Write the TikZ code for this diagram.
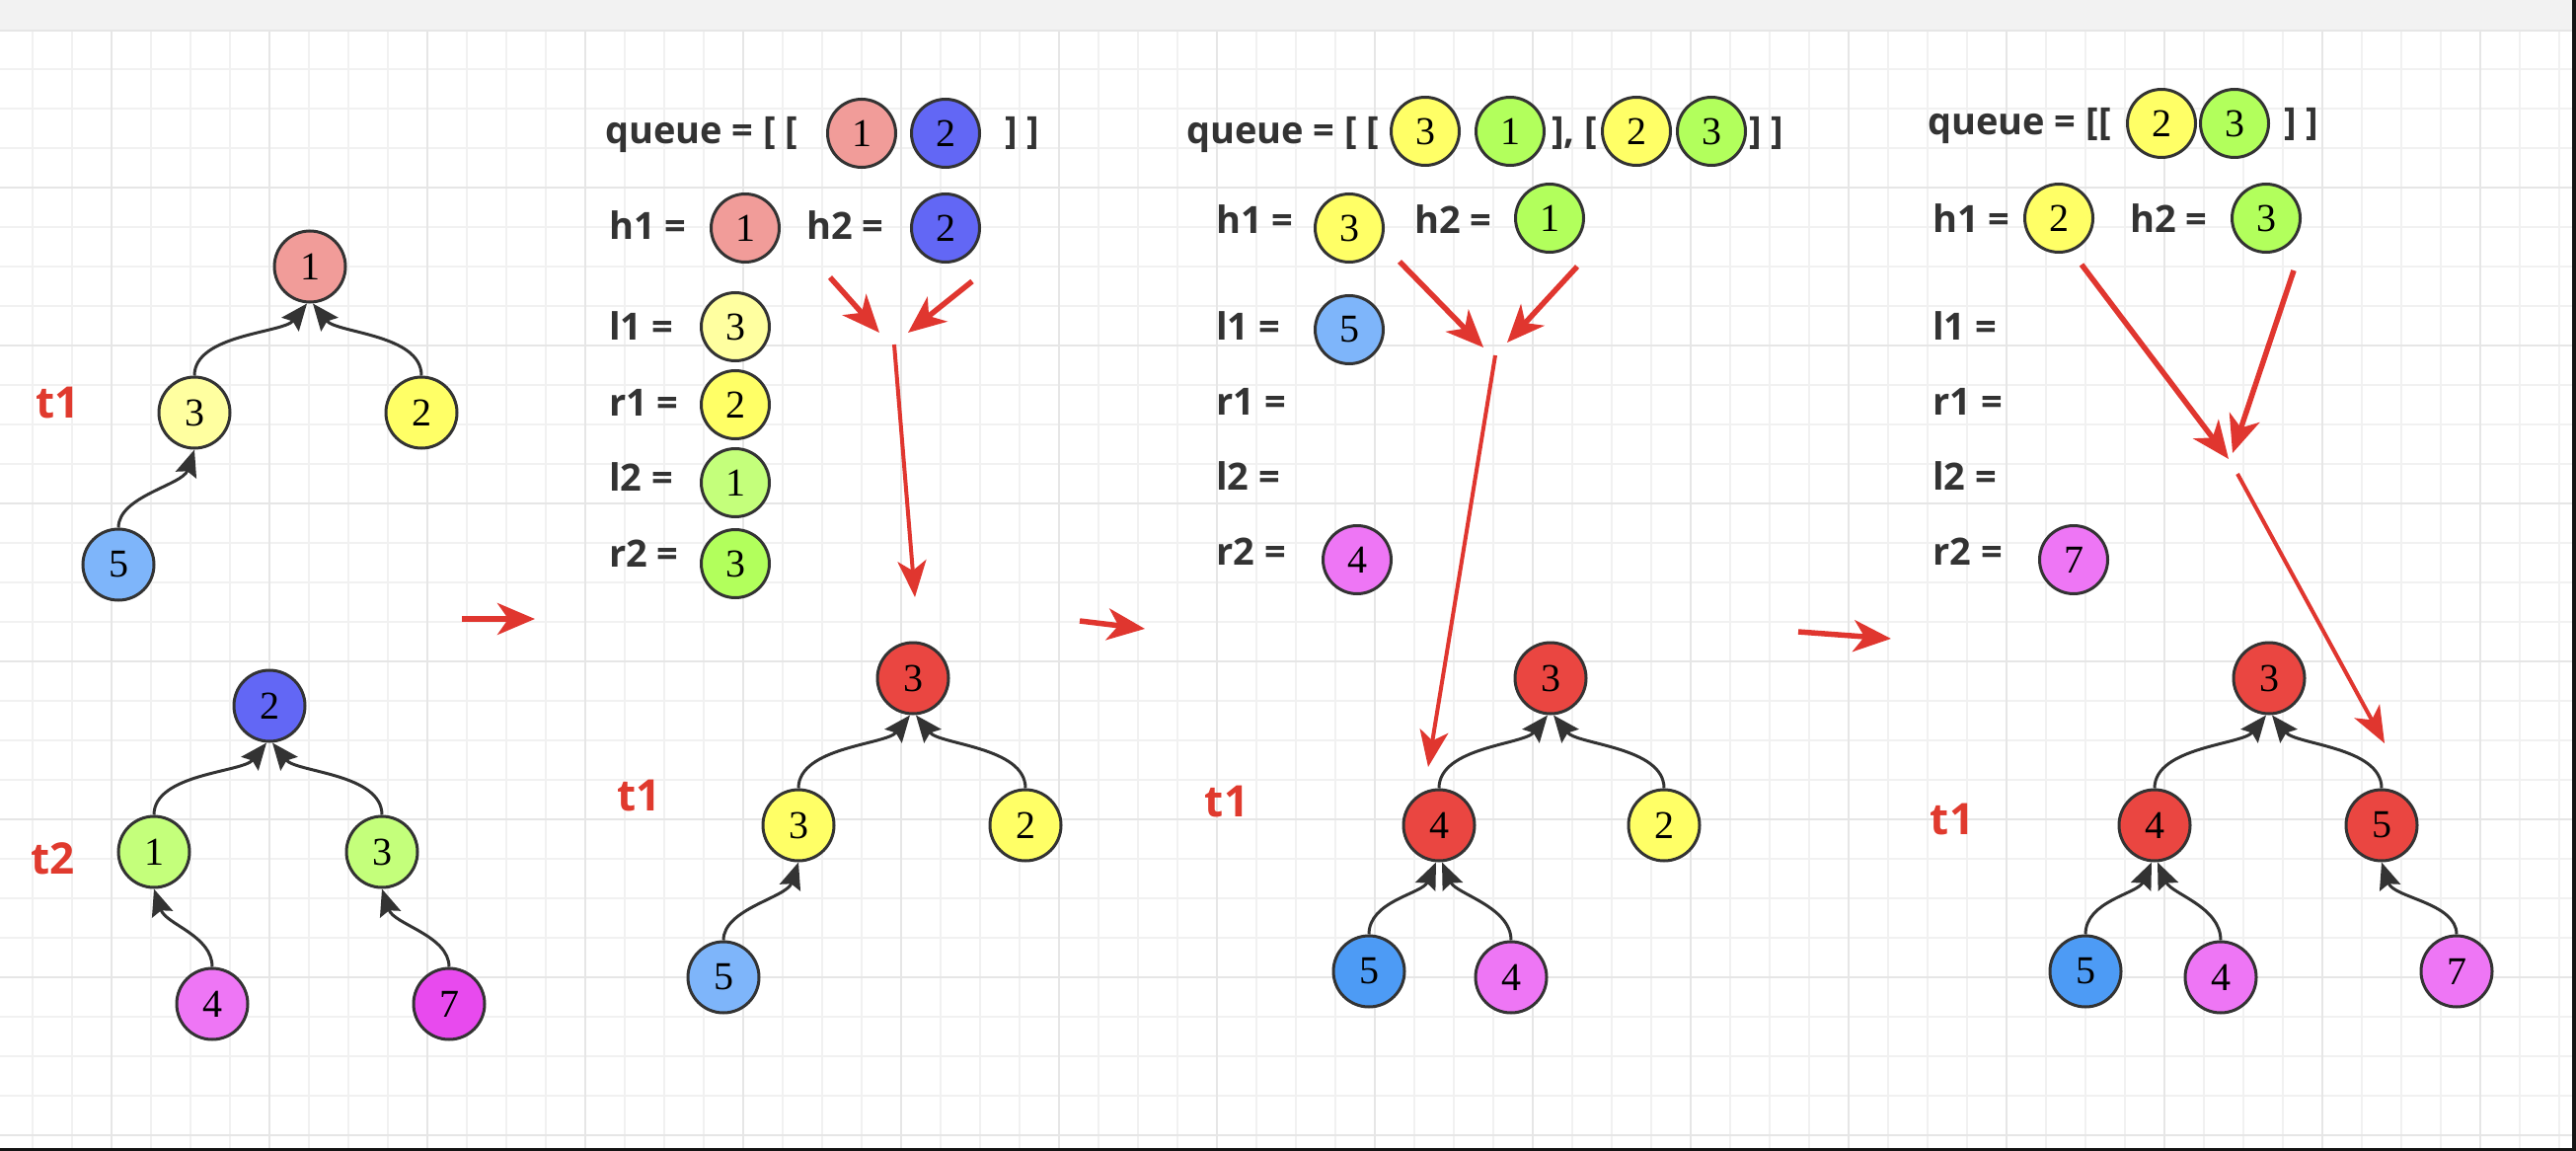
\documentclass[tikz,border=0pt]{standalone}
\usepackage{fontspec}
\setmainfont{Liberation Serif}
\newfontfamily\lblfont{Open Sans}
\usetikzlibrary{arrows.meta}
\definecolor{bandc}{HTML}{F2F2F2}
\definecolor{gridminor}{HTML}{F1F1F1}
\definecolor{gridmajor}{HTML}{E6E6E6}
\definecolor{edgec}{HTML}{333333}
\definecolor{txtc}{HTML}{333333}
\definecolor{redarrc}{HTML}{E0362F}
\definecolor{tlabc}{HTML}{E03A2E}
\definecolor{pinkc}{HTML}{F19C99}
\definecolor{perc}{HTML}{6267F5}
\definecolor{lyelc}{HTML}{FFFFA0}
\definecolor{yelc}{HTML}{FFFF66}
\definecolor{lgrnc}{HTML}{C4FF7B}
\definecolor{grnc}{HTML}{B2FF5C}
\definecolor{lbluc}{HTML}{7EB5FA}
\definecolor{dbluc}{HTML}{4D9BF5}
\definecolor{magc}{HTML}{EE76F5}
\definecolor{magdc}{HTML}{E84AEE}
\definecolor{rednc}{HTML}{EA4641}
\begin{document}
\begin{tikzpicture}[x=1pt,y=-1pt,
  tn/.style={circle,draw=edgec,line width=3pt,minimum size=72pt,inner sep=0pt,
    font=\fontsize{40}{40}\selectfont},
  vn/.style={circle,draw=edgec,line width=3pt,minimum size=69pt,inner sep=0pt,
    font=\fontsize{40}{40}\selectfont},
  lbl/.style={anchor=base west,inner sep=0pt,text=txtc,
    font=\lblfont\bfseries\fontsize{38}{40}\selectfont},
  tlab/.style={inner sep=0pt,text=tlabc,
    font=\lblfont\bfseries\fontsize{44}{44}\selectfont},
  tedge/.style={draw=edgec,line width=3pt,-{Stealth[length=27pt,width=22pt,inset=4pt]}},
  redarr/.style={draw=redarrc,line width=5.5pt,-{Stealth[length=38pt,width=32pt,inset=11pt]}},
  redlong/.style={draw=redarrc,line width=4pt,-{Stealth[length=37pt,width=29pt,inset=10pt]}},
  gmin/.style={draw=gridminor,line width=2pt},
  gmaj/.style={draw=gridmajor,line width=2.5pt}]
\useasboundingbox (0,0) rectangle (2610,1166);
\fill[white] (0,0) rectangle (2610,1166);
% grid
\foreach \gx in {33,73,...,2593} \draw[gmin] (\gx,31) -- (\gx,1163);
\foreach \gy in {70,110,...,1150} \draw[gmin] (0,\gy) -- (2606,\gy);
\foreach \gx in {113,273,...,2513} \draw[gmaj] (\gx,31) -- (\gx,1163);
\foreach \gy in {190,350,...,1150} \draw[gmaj] (0,\gy) -- (2606,\gy);
\fill[bandc] (0,0) rectangle (2606,31);
\draw[gridmajor,line width=2pt] (0,31) -- (2606,31);
\fill[black!92] (2606,0) rectangle (2610,1166);
\fill[black!92] (0,1163) rectangle (2610,1166);

% ---------------- panel 1 ----------------
\node[tlab] (t1a) at (59,408) {t1};
\node[tn,fill=pinkc] (a1) at (314,270) {1};
\node[tn,fill=lyelc] (a3) at (197,418) {3};
\node[tn,fill=yelc] (a2) at (427,418) {2};
\node[tn,fill=lbluc] (a5) at (120,572) {5};
\draw[tedge] (a3.north) .. controls +(0pt,42pt) and +(-24pt,-30pt) .. ([xshift=-3pt]a1.south);
\draw[tedge] (a2.north) .. controls +(0pt,42pt) and +(24pt,-30pt) .. ([xshift=3pt]a1.south);
\draw[tedge] (a5.north) .. controls +(0pt,32pt) and +(-12pt,-36pt) .. (a3.south);

\node[tlab] (t2a) at (54,870) {t2};
\node[tn,fill=perc] (b2) at (273,715) {2};
\node[tn,fill=lgrnc] (b1) at (156,863) {1};
\node[tn,fill=lgrnc] (b3) at (387,863) {3};
\node[tn,fill=magc] (b4) at (215,1017) {4};
\node[tn,fill=magdc] (b7) at (455,1017) {7};
\draw[tedge] (b1.north) .. controls +(0pt,42pt) and +(-24pt,-30pt) .. ([xshift=-3pt]b2.south);
\draw[tedge] (b3.north) .. controls +(0pt,42pt) and +(24pt,-30pt) .. ([xshift=3pt]b2.south);
\draw[tedge] (b4.north) .. controls +(0pt,32pt) and +(12pt,-36pt) .. (b1.south);
\draw[tedge] (b7.north) .. controls +(0pt,32pt) and +(12pt,-36pt) .. (b3.south);

\coordinate (m1s) at (468,627);
\coordinate (m1e) at (542,627);
\draw[redarr] (m1s) -- (m1e);

% ---------------- panel 2 ----------------
\node[lbl] (q2t) at (613,146) {queue = [ [};
\node[vn,fill=pinkc] (q2a) at (873,135) {1};
\node[vn,fill=perc] (q2b) at (958,135) {2};
\node[lbl] (q2c) at (1018,146) {] ]};
\node[lbl] (h21t) at (617,243) {h1 =};
\node[vn,fill=pinkc] (h21) at (755,231) {1};
\node[lbl] (h22t) at (817,243) {h2 =};
\node[vn,fill=perc] (h22) at (958,231) {2};
\node[lbl] (l21t) at (617,344) {l1 =};
\node[vn,fill=lyelc] (l21) at (745,331) {3};
\node[lbl] (r21t) at (617,421) {r1 =};
\node[vn,fill=yelc] (r21) at (745,410) {2};
\node[lbl] (l22t) at (617,497) {l2 =};
\node[vn,fill=lgrnc] (l22) at (745,489) {1};
\node[lbl] (r22t) at (617,574) {r2 =};
\node[vn,fill=grnc] (r22) at (745,571) {3};

\coordinate (p2a) at (841,281);
\coordinate (p2b) at (891,337);
\coordinate (p2c) at (985,285);
\coordinate (p2d) at (920,337);
\coordinate (p2e) at (906,349);
\coordinate (p2f) at (927,605);
\draw[redarr] (p2a) -- (p2b);
\draw[redarr] (p2c) -- (p2d);
\draw[redlong] (p2e) -- (p2f);

\node[tlab] (t1b) at (648,806) {t1};
\node[tn,fill=rednc] (c3) at (925,687) {3};
\node[tn,fill=yelc] (c3l) at (809,836) {3};
\node[tn,fill=yelc] (c2) at (1039,836) {2};
\node[tn,fill=lbluc] (c5) at (733,990) {5};
\draw[tedge] (c3l.north) .. controls +(0pt,42pt) and +(-24pt,-30pt) .. ([xshift=-3pt]c3.south);
\draw[tedge] (c2.north) .. controls +(0pt,42pt) and +(24pt,-30pt) .. ([xshift=3pt]c3.south);
\draw[tedge] (c5.north) .. controls +(0pt,32pt) and +(-12pt,-36pt) .. (c3l.south);

\coordinate (m2s) at (1094,629);
\coordinate (m2e) at (1160,637);
\draw[redarr] (m2s) -- (m2e);

% ---------------- panel 3 ----------------
\node[lbl] (q3t) at (1202,146) {queue = [ [};
\node[vn,fill=yelc] (q3a) at (1444,133) {3};
\node[vn,fill=grnc] (q3b) at (1530,133) {1};
\node[lbl] (q3m) at (1572,146) {], [};
\node[vn,fill=yelc] (q3c) at (1658,133) {2};
\node[vn,fill=grnc] (q3d) at (1734,133) {3};
\node[lbl] (q3e) at (1772,146) {] ]};
\node[lbl] (h31t) at (1232,237) {h1 =};
\node[vn,fill=yelc] (h31) at (1367,231) {3};
\node[lbl] (h32t) at (1433,237) {h2 =};
\node[vn,fill=grnc] (h32) at (1570,221) {1};
\node[lbl] (l31t) at (1232,344) {l1 =};
\node[vn,fill=lbluc] (l31) at (1367,334) {5};
\node[lbl] (r31t) at (1232,420) {r1 =};
\node[lbl] (l32t) at (1232,496) {l2 =};
\node[lbl] (r32t) at (1232,572) {r2 =};
\node[vn,fill=magc] (r32) at (1375,567) {4};

\coordinate (p3a) at (1418,265);
\coordinate (p3b) at (1503,352);
\coordinate (p3c) at (1598,270);
\coordinate (p3d) at (1527,347);
\coordinate (p3e) at (1515,360);
\coordinate (p3f) at (1447,777);
\draw[redarr] (p3a) -- (p3b);
\draw[redarr] (p3c) -- (p3d);
\draw[redlong] (p3e) -- (p3f);

\node[tlab] (t1c) at (1243,812) {t1};
\node[tn,fill=rednc] (d3) at (1571,687) {3};
\node[tn,fill=rednc] (d4) at (1458,836) {4};
\node[tn,fill=yelc] (d2) at (1686,836) {2};
\node[tn,fill=dbluc] (d5) at (1387,984) {5};
\node[tn,fill=magc] (d4b) at (1531,990) {4};
\draw[tedge] (d4.north) .. controls +(0pt,42pt) and +(-24pt,-30pt) .. ([xshift=-3pt]d3.south);
\draw[tedge] (d2.north) .. controls +(0pt,42pt) and +(24pt,-30pt) .. ([xshift=3pt]d3.south);
\draw[tedge] (d5.north) .. controls +(0pt,34pt) and +(-14pt,-32pt) .. ([xshift=-3pt]d4.south);
\draw[tedge] (d4b.north) .. controls +(0pt,34pt) and +(14pt,-32pt) .. ([xshift=3pt]d4.south);

\coordinate (m3s) at (1822,640);
\coordinate (m3e) at (1916,647);
\draw[redarr] (m3s) -- (m3e);

% ---------------- panel 4 ----------------
\node[lbl] (q4t) at (1953,137) {queue = [[};
\node[vn,fill=yelc] (q4a) at (2190,125) {2};
\node[vn,fill=grnc] (q4b) at (2264,125) {3};
\node[lbl] (q4e) at (2314,137) {] ]};
\node[lbl] (h41t) at (1958,236) {h1 =};
\node[vn,fill=yelc] (h41) at (2086,221) {2};
\node[lbl] (h42t) at (2158,236) {h2 =};
\node[vn,fill=grnc] (h42) at (2296,221) {3};
\node[lbl] (l41t) at (1958,344) {l1 =};
\node[lbl] (r41t) at (1958,420) {r1 =};
\node[lbl] (l42t) at (1958,496) {l2 =};
\node[lbl] (r42t) at (1958,572) {r2 =};
\node[vn,fill=magc] (r42) at (2101,567) {7};

\coordinate (p4a) at (2109,268);
\coordinate (p4b) at (2258,465);
\coordinate (p4c) at (2324,274);
\coordinate (p4d) at (2262,459);
\coordinate (p4e) at (2267,480);
\coordinate (p4f) at (2416,753);
\draw[redarr] (p4a) -- (p4b);
\draw[redarr] (p4c) -- (p4d);
\draw[redlong] (p4e) -- (p4f);

\node[tlab] (t1d) at (1978,830) {t1};
\node[tn,fill=rednc] (e3) at (2299,687) {3};
\node[tn,fill=rednc] (e4) at (2183,836) {4};
\node[tn,fill=rednc] (e5) at (2413,836) {5};
\node[tn,fill=dbluc] (e5b) at (2113,984) {5};
\node[tn,fill=magc] (e4b) at (2250,990) {4};
\node[tn,fill=magc] (e7) at (2489,984) {7};
\draw[tedge] (e4.north) .. controls +(0pt,42pt) and +(-24pt,-30pt) .. ([xshift=-3pt]e3.south);
\draw[tedge] (e5.north) .. controls +(0pt,42pt) and +(24pt,-30pt) .. ([xshift=3pt]e3.south);
\draw[tedge] (e5b.north) .. controls +(0pt,34pt) and +(-14pt,-32pt) .. ([xshift=-3pt]e4.south);
\draw[tedge] (e4b.north) .. controls +(0pt,34pt) and +(14pt,-32pt) .. ([xshift=3pt]e4.south);
\draw[tedge] (e7.north) .. controls +(0pt,32pt) and +(12pt,-36pt) .. (e5.south);
\end{tikzpicture}
\end{document}
